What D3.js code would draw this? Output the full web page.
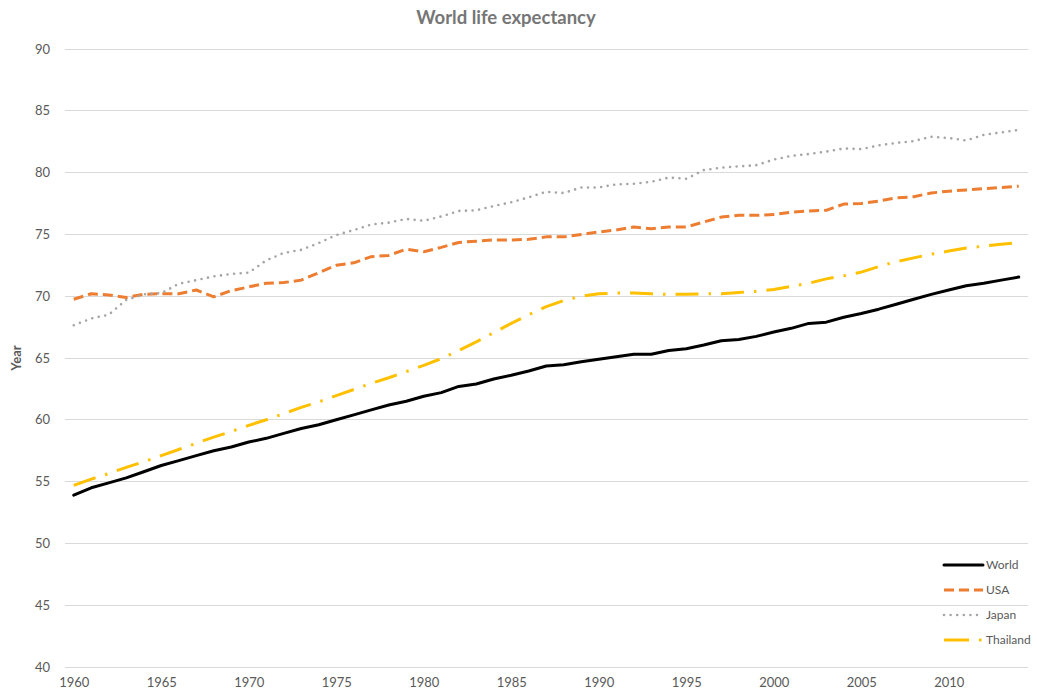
<!DOCTYPE html>
<html>
<head>
<meta charset="utf-8">
<script src="https://cdn.jsdelivr.net/npm/d3@7"></script>
<style>
  html, body { margin: 0; padding: 0; background: #fff; }
  svg { display: block; }
  text { font-family: Lato, "Open Sans", "Liberation Sans", sans-serif; }
</style>
</head>
<body>
<svg id="chart" width="1037" height="693"></svg>
<script>
const years = [1960,1961,1962,1963,1964,1965,1966,1967,1968,1969,
  1970,1971,1972,1973,1974,1975,1976,1977,1978,1979,
  1980,1981,1982,1983,1984,1985,1986,1987,1988,1989,
  1990,1991,1992,1993,1994,1995,1996,1997,1998,1999,
  2000,2001,2002,2003,2004,2005,2006,2007,2008,2009,
  2010,2011,2012,2013,2014];

const world = [53.9,54.5,54.9,55.3,55.8,56.3,56.7,57.1,57.5,57.8,
  58.2,58.5,58.9,59.3,59.6,60.0,60.4,60.8,61.2,61.5,
  61.9,62.2,62.7,62.9,63.3,63.6,63.95,64.35,64.45,64.7,
  64.9,65.1,65.3,65.3,65.6,65.75,66.05,66.4,66.5,66.75,
  67.1,67.4,67.8,67.9,68.3,68.6,68.95,69.35,69.75,70.15,
  70.5,70.85,71.05,71.3,71.55];

const usa = [69.75,70.2,70.1,69.9,70.15,70.2,70.2,70.5,69.95,70.45,
  70.75,71.05,71.1,71.3,71.9,72.5,72.7,73.2,73.3,73.8,
  73.6,73.95,74.35,74.45,74.55,74.55,74.6,74.8,74.8,75.0,
  75.2,75.35,75.6,75.45,75.6,75.6,76.0,76.4,76.55,76.55,
  76.6,76.8,76.9,76.95,77.45,77.5,77.7,77.95,78.05,78.35,
  78.5,78.6,78.7,78.8,78.9];

const japan = [67.65,68.2,68.5,69.7,70.15,70.25,71.0,71.3,71.6,71.8,
  71.9,72.9,73.5,73.75,74.3,74.95,75.35,75.8,75.95,76.25,
  76.1,76.45,76.9,76.95,77.3,77.6,78.0,78.45,78.35,78.8,
  78.8,79.05,79.1,79.25,79.6,79.5,80.2,80.4,80.5,80.6,
  81.05,81.35,81.5,81.7,81.95,81.9,82.2,82.4,82.55,82.9,
  82.8,82.6,83.05,83.25,83.45];

const thailand = [54.7,55.2,55.65,56.15,56.6,57.1,57.6,58.1,58.6,59.05,
  59.55,60.0,60.5,61.0,61.45,61.95,62.45,62.95,63.4,63.9,
  64.4,64.95,65.6,66.3,67.05,67.8,68.5,69.15,69.65,70.0,
  70.2,70.25,70.25,70.2,70.15,70.15,70.2,70.2,70.3,70.4,
  70.55,70.8,71.05,71.4,71.65,71.95,72.4,72.8,73.1,73.4,
  73.65,73.9,74.05,74.2,74.35];

const xTickLabels = [1960,1965,1970,1975,1980,1985,1990,1995,2000,2005,2010];
const yTicks = [40,45,50,55,60,65,70,75,80,85,90];
const seriesNames = ["World","USA","Japan","Thailand"];

const series = [
  {name: seriesNames[0], values: world,    color: "#000000", width: 3,   dash: null,           cap: "round"},
  {name: seriesNames[1], values: usa,      color: "#ED7D31", width: 3,   dash: "10,5",         cap: "butt"},
  {name: seriesNames[2], values: japan,    color: "#A5A5A5", width: 2.6, dash: "0,6.6",        cap: "round"},
  {name: seriesNames[3], values: thailand, color: "#FFC000", width: 3,   dash: "23,10,2.5,10", cap: "butt"}
];

const svg = d3.select("#chart");
const plotLeft = 65, plotRight = 1027.5, plotTop = 49, plotBottom = 667;

const x = d3.scalePoint().domain(years).range([plotLeft, plotRight]).padding(0.5);
const y = d3.scaleLinear().domain([40, 90]).range([plotBottom, plotTop]);

// gridlines
svg.append("g")
  .selectAll("line")
  .data(yTicks)
  .join("line")
  .attr("x1", plotLeft).attr("x2", plotRight)
  .attr("y1", d => y(d)).attr("y2", d => y(d))
  .attr("stroke", "#d9d9d9").attr("stroke-width", 1)
  .attr("shape-rendering", "crispEdges");

// y axis labels
const yAxis = d3.axisLeft(y).tickValues(yTicks).tickSize(0).tickPadding(15);
const gy = svg.append("g").attr("transform", `translate(${plotLeft},0)`).call(yAxis);
gy.select(".domain").remove();
gy.selectAll("text").attr("fill", "#595959").style("font-size", "13px")
  .style("font-family", "Lato, 'Open Sans', sans-serif");

// x axis labels
const xAxis = d3.axisBottom(x).tickValues(xTickLabels).tickSize(0).tickPadding(11);
const gx = svg.append("g").attr("transform", `translate(0,${plotBottom})`).call(xAxis);
gx.select(".domain").remove();
gx.selectAll("text").attr("fill", "#595959").style("font-size", "13px")
  .style("font-family", "Lato, 'Open Sans', sans-serif");

// lines
const line = d3.line().x((d, i) => x(years[i])).y(d => y(d));
svg.append("g").selectAll("path")
  .data(series)
  .join("path")
  .attr("d", d => line(d.values))
  .attr("fill", "none")
  .attr("stroke", d => d.color)
  .attr("stroke-width", d => d.width)
  .attr("stroke-dasharray", d => d.dash)
  .attr("stroke-linecap", d => d.cap)
  .attr("stroke-linejoin", "round");

// title
svg.append("text")
  .attr("x", 506).attr("y", 24)
  .attr("text-anchor", "middle")
  .attr("fill", "#767676")
  .style("font-size", "18.5px").style("font-weight", "bold")
  .text("World life expectancy");

// y axis title
svg.append("text")
  .attr("transform", "translate(21,358) rotate(-90)")
  .attr("text-anchor", "middle")
  .attr("fill", "#595959")
  .style("font-size", "13px").style("font-weight", "bold")
  .text("Year");

// legend
const legend = svg.append("g");
const legendRowY = d3.scalePoint().domain(seriesNames).range([565, 640]);
const lg = legend.selectAll("g").data(series).join("g")
  .attr("transform", d => `translate(0,${legendRowY(d.name)})`);
lg.append("line")
  .attr("x1", 944).attr("x2", 983).attr("y1", 0).attr("y2", 0)
  .attr("stroke", d => d.color)
  .attr("stroke-width", d => d.width)
  .attr("stroke-dasharray", d => d.name === "Thailand" ? "25,10,2.5,10" : d.dash)
  .attr("stroke-linecap", d => d.cap);
lg.append("text")
  .attr("x", 986).attr("y", 0).attr("dy", "0.35em")
  .attr("fill", "#595959")
  .style("font-size", "12px")
  .text(d => d.name);
</script>
</body>
</html>
